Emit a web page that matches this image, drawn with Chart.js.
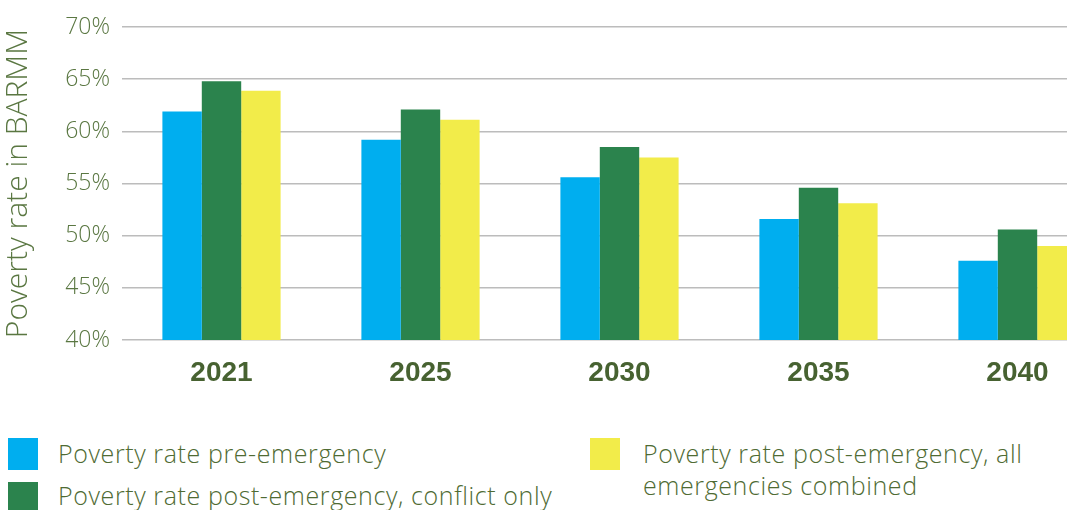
<!DOCTYPE html>
<html>
  <head>
    <title>Poverty rate in BARMM</title>
    <meta charset="UTF-8">
    <script src="https://cdn.jsdelivr.net/npm/chart.js@4.4.0/dist/chart.umd.min.js"></script>
    <style>
      html, body { margin: 0; padding: 0; background: #fff; overflow: hidden; width: 1067px; height: 510px; }
      #wrap { position: absolute; left: 0; top: 0; width: 1117px; height: 400px; }
      .leg { position: absolute; font-family: "Open Sans", sans-serif; font-weight: 300; font-size: 25px; letter-spacing: 0.6px; color: #4f6b33; line-height: 32px; white-space: nowrap; }
      .box { position: absolute; width: 30px; height: 32px; }
    </style>
  </head>
  <body>
    <div id="wrap"><canvas id="chart"></canvas></div>
    <div id="legend"></div>
    <script>
        const years = ['2021', '2025', '2030', '2035', '2040']
        const preEmergency = [61.9, 59.2, 55.6, 51.6, 47.6]
        const conflictOnly = [64.8, 62.1, 58.5, 54.6, 50.6]
        const allCombined = [63.9, 61.1, 57.5, 53.1, 49.0]
        const seriesNames = [
            'Poverty rate pre-emergency',
            'Poverty rate post-emergency, conflict only',
            'Poverty rate post-emergency, all emergencies combined'
        ]
        // legend text lines (third entry wraps onto two lines)
        const legendLines = [
            ['Poverty rate pre-emergency'],
            ['Poverty rate post-emergency, conflict only'],
            ['Poverty rate post-emergency, all', 'emergencies combined']
        ]
        const colors = ['#00aeef', '#2b834d', '#f2ec4a']
        const yTicks = [40, 45, 50, 55, 60, 65, 70]

        const textGreen = '#5a7742'

        let ctx = document.getElementById('chart').getContext('2d')
        let chart1 = new Chart(ctx, {
            type: 'bar',
            data: {
                labels: years,
                datasets: [preEmergency, conflictOnly, allCombined].map((d, i) => ({
                    label: seriesNames[i],
                    data: d,
                    backgroundColor: colors[i],
                    borderWidth: 0,
                    barPercentage: 1,
                    categoryPercentage: 0.594
                }))
            },
            options: {
                responsive: true,
                maintainAspectRatio: false,
                animation: false,
                layout: { padding: { top: 27, right: 0, left: 0, bottom: 0 } },
                plugins: {
                    legend: { display: false },
                    tooltip: { enabled: false }
                },
                scales: {
                    x: {
                        grid: { display: false },
                        border: { display: false },
                        ticks: {
                            color: '#476231',
                            padding: 8,
                            font: { family: 'Liberation Sans', size: 28, weight: 'bold' }
                        },
                        afterFit: s => { s.height = 60 }
                    },
                    y: {
                        min: 40,
                        max: 70,
                        afterBuildTicks: s => { s.ticks = yTicks.map(v => ({ value: v })) },
                        grid: { color: '#bcbcbc', lineWidth: 1.6, drawTicks: false },
                        border: { display: false },
                        ticks: {
                            color: textGreen,
                            padding: 12,
                            font: { family: 'Open Sans', size: 23, weight: 300 },
                            callback: v => v + '%'
                        },
                        title: {
                            display: true,
                            text: 'Poverty rate in BARMM',
                            color: textGreen,
                            padding: { top: 0, bottom: 0 },
                            font: { family: 'Open Sans', size: 30, weight: 300 }
                        },
                        afterFit: s => { s.width = 122 }
                    }
                }
            }
        })

        // legend in two columns like the original
        const legendPos = [
            { box: [8, 438], text: [58, 437] },
            { box: [8, 482], text: [58, 479] },
            { box: [590, 438], text: [643, 437] }
        ]
        let legend = document.getElementById('legend')
        legendLines.forEach((lines, i) => {
            let p = legendPos[i]
            let b = document.createElement('div')
            b.className = 'box'
            b.style.left = p.box[0] + 'px'
            b.style.top = p.box[1] + 'px'
            b.style.background = colors[i]
            legend.appendChild(b)
            let t = document.createElement('div')
            t.className = 'leg'
            t.style.left = p.text[0] + 'px'
            t.style.top = p.text[1] + 'px'
            t.innerHTML = lines.join('<br>')
            legend.appendChild(t)
        })
    </script>
  </body>
</html>
